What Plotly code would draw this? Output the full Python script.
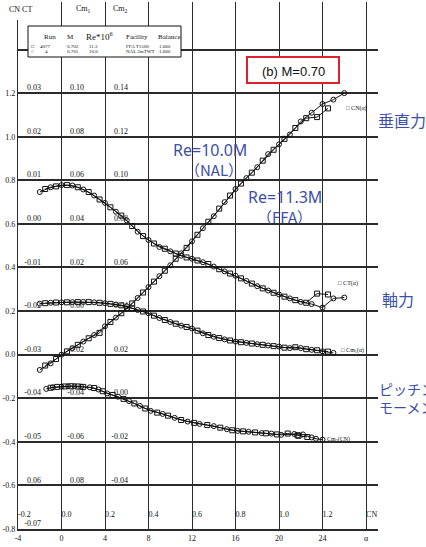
import plotly.graph_objects as go

# ---------------- data ----------------
# NAL 2m TWT run (circles)
alpha_nal = [-2, -1, 0, 1, 2, 3, 4, 5, 6, 7, 8, 9, 10, 11, 12, 13, 14, 15, 16, 17,
             18, 19, 20, 21, 22, 23, 24, 25, 26]
cn_nal = [-0.07, -0.04, 0.0, 0.03, 0.06, 0.09, 0.13, 0.17, 0.21, 0.26, 0.31, 0.36, 0.41,
          0.465, 0.52, 0.58, 0.635, 0.70, 0.76, 0.81, 0.86, 0.92, 0.965, 1.01, 1.07, 1.11,
          1.15, 1.17, 1.20]
ct_nal = [0.0073, 0.0084, 0.0089, 0.0088, 0.0079, 0.0065, 0.0048, 0.0028, 0.0008, -0.0018,
          -0.0037, -0.0053, -0.0063, -0.0073, -0.0080, -0.0088, -0.0098, -0.0109, -0.0119,
          -0.0131, -0.0143, -0.0153, -0.0162, -0.0171, -0.0179, -0.0184, -0.0192, -0.0171,
          -0.0169]
alpha_nal_cm1 = [-2, -1, 0, 1, 2, 3, 4, 5, 6, 7, 8, 9, 10, 11, 12, 13, 14, 15, 16, 17,
                 18, 19, 20, 21, 22, 23, 24, 25]
cm1_nal = [0.0034, 0.0038, 0.0040, 0.0041, 0.0042, 0.0040, 0.0036, 0.0030, 0.0022, 0.0005,
           -0.0010, -0.0032, -0.0050, -0.0067, -0.0080, -0.0102, -0.0118, -0.0130, -0.0140,
           -0.0146, -0.0152, -0.0158, -0.0163, -0.0170, -0.0170, -0.0178, -0.0185, -0.0192]
cm2_nal = [0.0043, 0.0050, 0.0053, 0.0055, 0.0055, 0.0053, 0.0050, 0.0040, 0.0022, 0.0007,
           -0.0013, -0.0035, -0.0058, -0.0072, -0.0090, -0.0107, -0.0118, -0.0128, -0.0142,
           -0.0150, -0.0154, -0.0160, -0.0162, -0.0168, -0.0164, -0.0166, -0.0180, -0.0186,
           -0.0190]

# FFA T1500 run (squares)
alpha_ffa = [-1.5, -0.5, 0.5, 1.5, 2.5, 3.5, 4.5, 5.5, 6.5, 7.5, 8.5, 9.5, 10.5, 11.5,
             12.5, 13.5, 14.5, 15.5, 16.5, 17.5, 18.5, 19.5, 20.5, 21.5, 22.5, 23.5, 24.5]
cn_ffa = [-0.05, -0.02, 0.015, 0.045, 0.075, 0.10, 0.15, 0.19, 0.235, 0.285, 0.335, 0.385,
          0.44, 0.49, 0.55, 0.61, 0.67, 0.73, 0.785, 0.835, 0.89, 0.94, 0.99, 1.04, 1.085,
          1.09, 1.13]
ct_ffa = [0.0080, 0.0086, 0.0089, 0.0084, 0.0073, 0.0056, 0.0038, 0.0019, -0.0005, -0.0028,
          -0.0045, -0.0057, -0.0068, -0.0077, -0.0084, -0.0092, -0.0104, -0.0114, -0.0125,
          -0.0137, -0.0148, -0.0158, -0.0167, -0.0175, -0.0181, -0.0160, -0.0162]
cm1_ffa = [0.0036, 0.0039, 0.0040, 0.0041, 0.0041, 0.0038, 0.0033, 0.0026, 0.0012, -0.0002,
           -0.0021, -0.0041, -0.0058, -0.0073, -0.0090, -0.0110, -0.0124, -0.0135, -0.0143,
           -0.0149, -0.0155, -0.0161, -0.0168, -0.0166, -0.0175, -0.0180, -0.0186]
cm2_ffa = [0.0048, 0.0052, 0.0054, 0.0055, 0.0054, 0.0052, 0.0047, 0.0032, 0.0015, -0.0003,
           -0.0024, -0.0047, -0.0066, -0.0080, -0.0100, -0.0113, -0.0123, -0.0135, -0.0147,
           -0.0152, -0.0157, -0.0161, -0.0166, -0.0162, -0.0170, -0.0172, -0.0178]

# tick labels
cn_ticks = [-0.8, -0.6, -0.4, -0.2, 0.0, 0.2, 0.4, 0.6, 0.8, 1.0, 1.2, 1.4]
cn_text = ["-0.8", "-0.6", "-0.4", "-0.2", "0.0", "0.2", "0.4", "0.6", "0.8", "1.0", "1.2", ""]
alpha_ticks = [-4, 0, 4, 8, 12, 16, 20, 24, 28]
alpha_text = ["-4", "0", "4", "8", "12", "16", "20", "24", "α"]
cnx_ticks = [-0.2, 0.0, 0.2, 0.4, 0.6, 0.8, 1.0, 1.2, 1.4]
cnx_text = ["-0.2", "0.0", "0.2", "0.4", "0.6", "0.8", "1.0", "1.2", "CN"]
ct_ticks = [-0.07, -0.06, -0.05, -0.04, -0.03, -0.02, -0.01, 0.0, 0.01, 0.02, 0.03]
ct_text = ["-0.07", "0.06", "-0.05", "-0.04", "-0.03", "-0.02", "-0.01", "0.00", "0.01", "0.02", "0.03"]
cm1_ticks = [-0.08, -0.06, -0.04, -0.02, 0.0, 0.02, 0.04, 0.06, 0.08, 0.10]
cm1_text = ["0.08", "-0.06", "-0.04", "-0.02", "0.00", "0.02", "0.04", "0.06", "0.08", "0.10"]
cm2_ticks = [-0.04, -0.02, 0.0, 0.02, 0.04, 0.06, 0.08, 0.10, 0.12, 0.14]
cm2_text = ["-0.04", "-0.02", "0.00", "0.02", "0.04", "0.06", "0.08", "0.10", "0.12", "0.14"]

# ---------------- layout helpers ----------------
W, H = 426, 547
ML, MR, MT, MB = 18, 48, 2, 18
Y0, Y1 = -0.8, 1.618
X0, X1 = -4, 29.1
CT_OFF, CT_SC = 0.6, 20
CM1_OFF, CM1_SC = 0.2, 10
CM2_OFF, CM2_SC = -0.2, 10
CN_PER_DEG = 20


def PX(x):
    return (x - ML) / (W - ML - MR)


def PY(y):
    return (H - MB - y) / (H - MT - MB)


SERIF = "Liberation Serif"
INK = "#111111"
BLUE = "#3b4fa8"

fig = go.Figure()

line_style = dict(color=INK, width=1)


def add(x, y, sym, xa="x", ya="y"):
    fig.add_trace(go.Scatter(
        x=x, y=y, mode="lines+markers", xaxis=xa, yaxis=ya,
        line=line_style,
        marker=dict(symbol=sym, size=5, color=INK, line=dict(width=1, color=INK)),
        showlegend=False, hoverinfo="skip"))


add(alpha_nal, cn_nal, "circle-open")
add(alpha_ffa, cn_ffa, "square-open")
add(alpha_nal, ct_nal, "circle-open", ya="y2")
add(alpha_ffa, ct_ffa, "square-open", ya="y2")
add(alpha_nal_cm1, cm1_nal, "circle-open", ya="y3")
add(alpha_ffa, cm1_ffa, "square-open", ya="y3")
add(cn_nal, cm2_nal, "circle-open", xa="x2", ya="y4")
add(cn_ffa, cm2_ffa, "square-open", xa="x2", ya="y4")

tick_font = dict(family=SERIF, size=8, color=INK)
grid_col = "#2b2b2b"


def sec_axis(off, sc, ticks, text, pos):
    return dict(
        overlaying="y", anchor="free", position=pos, side="right",
        range=[(Y0 - off) / sc, (Y1 - off) / sc],
        showgrid=False, zeroline=False, showline=False, ticks="",
        tickvals=ticks, ticktext=text, tickfont=dict(tick_font),
        ticklabelposition="inside top", ticklabeloverflow="allow")


fig.update_layout(
    width=W, height=H,
    margin=dict(l=ML, r=MR, t=MT, b=MB),
    paper_bgcolor="white", plot_bgcolor="white",
    xaxis=dict(range=[X0, X1], tickvals=alpha_ticks, ticktext=alpha_text,
               showgrid=True, gridcolor=grid_col, gridwidth=1.2, zeroline=False,
               showline=True, linecolor=grid_col, linewidth=1.8, ticks="",
               tickfont=dict(tick_font)),
    xaxis2=dict(overlaying="x", anchor="y", side="bottom",
                range=[X0 / CN_PER_DEG, X1 / CN_PER_DEG],
                tickvals=cnx_ticks, ticktext=cnx_text, showgrid=False, zeroline=False,
                showline=False, ticks="", tickfont=dict(tick_font),
                ticklabelposition="inside right", ticklabeloverflow="allow",
                ticklabelstandoff=4),
    yaxis=dict(range=[Y0, Y1], tickvals=cn_ticks, ticktext=cn_text,
               showgrid=True, gridcolor=grid_col, gridwidth=1.6, zeroline=False,
               showline=True, linecolor=grid_col, linewidth=1.4, ticks="",
               tickfont=dict(tick_font)),
    yaxis2=sec_axis(CT_OFF, CT_SC, ct_ticks, ct_text, PX(44)),
    yaxis3=sec_axis(CM1_OFF, CM1_SC, cm1_ticks, cm1_text, PX(87)),
    yaxis4=sec_axis(CM2_OFF, CM2_SC, cm2_ticks, cm2_text, PX(131)),
)

ann = []


def text(x, y, s, size=8, color=INK, family=SERIF, anchor="left"):
    ann.append(dict(x=PX(x), y=PY(y), xref="paper", yref="paper", text=s, showarrow=False,
                    xanchor=anchor, yanchor="middle", align="left",
                    font=dict(family=family, size=size, color=color)))


# cover the left axis line above the plotted area (it starts lower in the original)
fig.add_shape(type="rect", xref="paper", yref="paper", x0=PX(16), x1=PX(20), y0=PY(20), y1=PY(0),
              line=dict(width=0), fillcolor="white", layer="above")

# axis headers
text(7, 9, "CN CT")
text(74, 9, "Cm<sub>1</sub>")
text(111, 9, "Cm<sub>2</sub>")

# legend table
fig.add_shape(type="rect", xref="paper", yref="paper", x0=PX(28), x1=PX(181), y0=PY(57), y1=PY(26),
              line=dict(color=INK, width=1), fillcolor="white", layer="above")
text(42, 37, "Run", 7)
text(65, 37, "M", 7)
text(84, 36, "Re*10<sup>6</sup>", 9)
text(124, 37, "Facility", 7)
text(156, 37, "Balance", 7)
text(29, 46, "□", 5)
text(38, 46, "4077", 5)
text(65, 46, "0.702", 5)
text(87, 46, "11.3", 5)
text(124, 46, "FFA T1500", 5)
text(157, 46, "1.660", 5)
text(29, 51, "○", 5)
text(43, 51, "4", 5)
text(65, 51, "0.701", 5)
text(87, 51, "10.0", 5)
text(124, 51, "NAL 2mTWT", 5)
text(157, 51, "1.660", 5)

# curve labels
text(344, 108, "□ CN(α)", 6)
text(336, 283, "□ CT(α)", 6)
text(339, 350, "□ Cm<sub>1</sub>(α)", 6)
text(325, 439, "Cm<sub>2</sub>(CN)", 6)

# title box
fig.add_shape(type="rect", xref="paper", yref="paper", x0=PX(247), x1=PX(339), y0=PY(83), y1=PY(57),
              line=dict(color="#e0202a", width=2), fillcolor="white", layer="above")
text(293, 71, "(b) M=0.70", 13, family="Liberation Sans", anchor="center")

# blue annotations
SANS = "Noto Sans"
JP = "Noto Sans CJK JP"
text(210, 150, "Re=10.0M", 16, BLUE, SANS, "center")
text(214, 170, "（NAL）", 15, BLUE, JP, "center")
text(285, 197, "Re=11.3M", 16, BLUE, SANS, "center")
text(284, 216, "（FFA）", 15, BLUE, JP, "center")
text(376, 120, "垂直力", 16, BLUE, JP)
text(380, 299, "軸力", 16, BLUE, JP)
text(377, 398, "ピッチング<br>モーメント", 14, BLUE, JP)

fig.update_layout(annotations=ann)
fig.write_html("out.html", config={"displayModeBar": False},
               post_script="document.body.style.margin='0';")
